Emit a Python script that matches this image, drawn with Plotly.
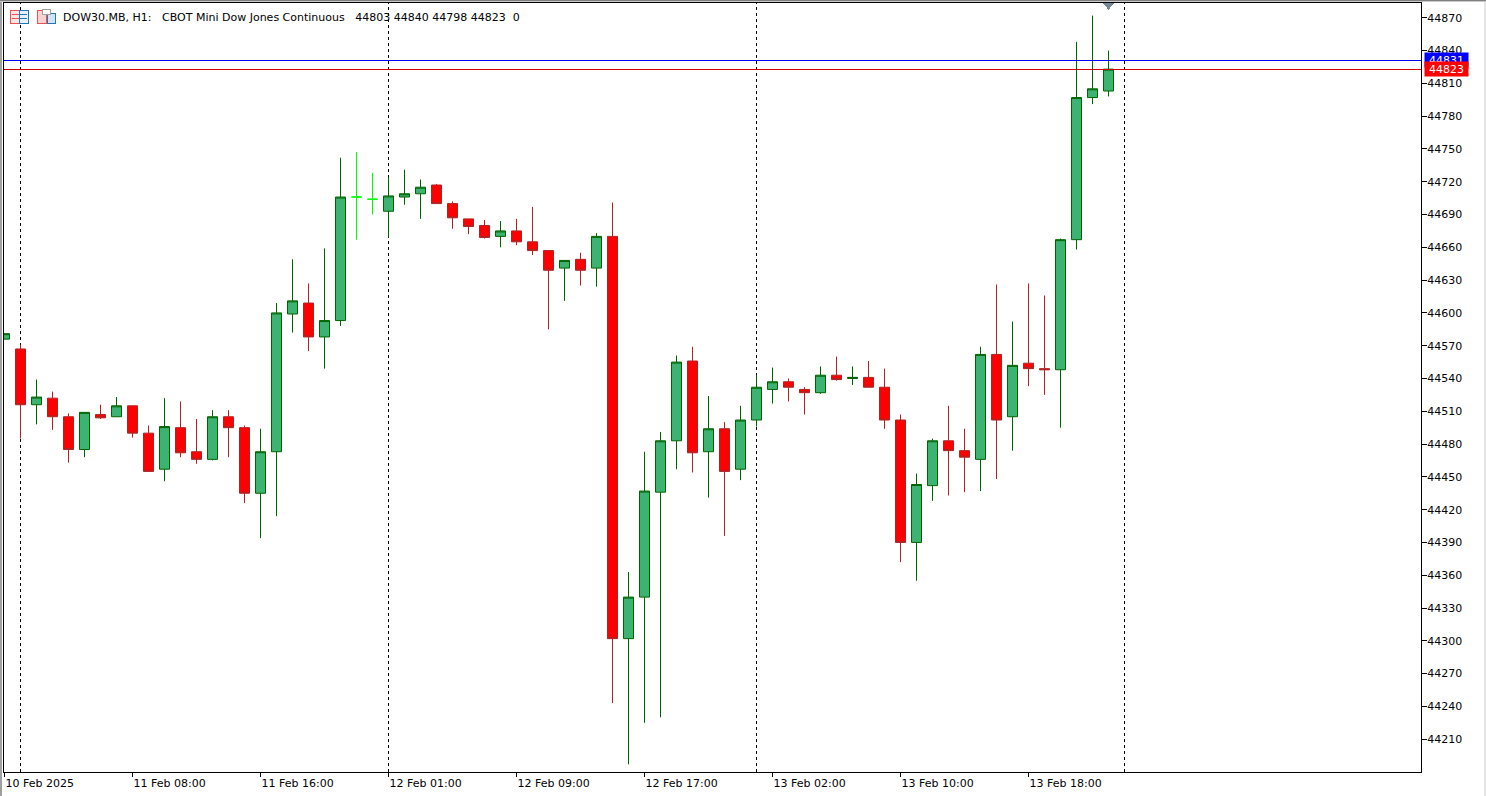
import plotly.graph_objects as go

opens = [44576,44567,44516,44522,44505,44475,44507,44505,44515,44490,44457,44495,44473,44466,44505,44495,44435,44473,44599,44609,
         44578,44593,44706,44704,44693,44706,44709,44717,44700,44686,44680,44670,44675,44665,44657,44641,44649,44641,44670,44302,
         44340,44436,44483,44556,44473,44494,44457,44502,44530,44537,44530,44527,44543,44540,44541,44532,44502,44390,44442,44483,
         44474,44466,44562,44505,44554,44549,44548,44667,44797,44803]
highs = [44581,44571,44539,44528,44508,44509,44516,44523,44515,44497,44522,44519,44503,44511,44511,44497,44494,44609,44649,44627,
         44659,44742,44747,44728,44724,44731,44722,44718,44702,44686,44685,44684,44686,44697,44657,44648,44655,44673,44701,44363,
         44473,44491,44561,44569,44524,44500,44515,44543,44550,44540,44532,44551,44560,44551,44556,44549,44507,44453,44485,44515,
         44494,44569,44626,44592,44627,44616,44668,44848,44872,44840]
lows = [44576,44485,44498,44493,44463,44468,44503,44505,44486,44455,44446,44468,44462,44465,44468,44426,44394,44414,44582,44565,
        44549,44588,44667,44690,44669,44699,44686,44700,44677,44672,44668,44660,44662,44653,44585,44611,44625,44624,44243,44187,
        44225,44230,44457,44454,44431,44396,44447,44496,44517,44519,44507,44526,44538,44534,44532,44494,44372,44355,44428,44433,
        44436,44437,44448,44474,44533,44525,44495,44658,44791,44798]
closes = [44581,44516,44523,44505,44475,44509,44504,44515,44490,44455,44496,44472,44466,44505,44495,44435,44473,44600,44611,44578,
          44593,44706,44706,44704,44707,44709,44715,44700,44687,44679,44669,44675,44665,44657,44639,44648,44639,44670,44302,44340,
          44437,44483,44555,44472,44494,44455,44502,44532,44537,44532,44527,44543,44539,44541,44532,44502,44390,44443,44483,44474,
          44468,44562,44502,44552,44549,44548,44667,44797,44805,44823]
x_tick_bars = [0, 8, 16, 24, 32, 40, 48, 56, 64]
x_tick_labels = ["10 Feb 2025", "11 Feb 08:00", "11 Feb 16:00", "12 Feb 01:00", "12 Feb 09:00",
                 "12 Feb 17:00", "13 Feb 02:00", "13 Feb 10:00", "13 Feb 18:00"]
y_ticks = [44210,44240,44270,44300,44330,44360,44390,44420,44450,44480,44510,44540,44570,44600,44630,
           44660,44690,44720,44750,44780,44810,44840,44870]
day_separators = [1, 24, 47, 70]
bid_price = 44823
ask_price = 44831
title_text = ("DOW30.MB, H1:\u00a0\u00a0\u00a0CBOT Mini Dow Jones Continuous\u00a0\u00a0\u00a0"
              "44803 44840 44798 44823\u00a0\u00a00")

W, H = 1486, 796
L, R, T, B = 4, 1421, 3, 772
FONT = "DejaVu Sans"
PX_PER_BAR = 16
Y_TOP, Y_BOTTOM = 44883.5, 44180.0
X_START = -0.5 / PX_PER_BAR

bars = list(range(len(opens)))
regular = [i for i in bars if opens[i] != closes[i]]
doji = [i for i in bars if opens[i] == closes[i]]

def pick(a, idx): return [a[i] for i in idx]

fig = go.Figure()
fig.add_trace(go.Candlestick(
    x=regular, open=pick(opens, regular), high=pick(highs, regular), low=pick(lows, regular), close=pick(closes, regular),
    increasing=dict(fillcolor="#3CB371", line=dict(color="#006400", width=1)),
    decreasing=dict(fillcolor="#FF0000", line=dict(color="#B22222", width=1)),
    hoverinfo="skip", showlegend=False))
fig.add_trace(go.Candlestick(
    x=doji, open=pick(opens, doji), high=pick(highs, doji), low=pick(lows, doji), close=pick(closes, doji),
    increasing=dict(fillcolor="#00FF00", line=dict(color="#00FF00", width=1)),
    decreasing=dict(fillcolor="#00FF00", line=dict(color="#00FF00", width=1)),
    hoverinfo="skip", showlegend=False))

shapes = []
for s in day_separators:
    shapes.append(dict(type="line", xref="x", yref="paper", x0=s, x1=s, y0=0, y1=1, layer="below",
                       line=dict(color="#000000", width=1, dash="3px,3px")))
shapes.append(dict(type="line", xref="paper", yref="y", x0=0, x1=1, y0=ask_price, y1=ask_price, layer="above",
                   line=dict(color="#0000FF", width=1)))
shapes.append(dict(type="line", xref="paper", yref="y", x0=0, x1=1, y0=bid_price, y1=bid_price, layer="above",
                   line=dict(color="#D00000", width=1)))

def rect(x0, y0, x1, y1, fill, line=None):
    return dict(type="rect", xref="paper", yref="paper", x0=(x0 - L) / (R - L), x1=(x1 - L) / (R - L),
                y0=(B - y1) / (B - T), y1=(B - y0) / (B - T), fillcolor=fill, layer="above",
                line=dict(color=line or fill, width=1 if line else 0))
shapes.append(rect(0, 0, 2, 796, "#A0A0A0"))
shapes.append(rect(0, 0, 1486, 1, "#808080"))
shapes.append(rect(0, 1, 1486, 2, "#C8C8C8"))
shapes.append(rect(1484, 2, 1486, 796, "#E4E4E4"))

ax0, ax1, ay0, ay1 = (1103 - L) / (R - L), (1114 - L) / (R - L), (B - 3) / (B - T), (B - 10) / (B - T)
shapes.append(dict(type="path", xref="paper", yref="paper", fillcolor="#778899", line=dict(width=0), layer="above",
                   path=f"M{ax0},{ay0} L{ax1},{ay0} L{(ax0 + ax1) / 2},{ay1} Z"))

shapes.append(rect(10.5, 10.5, 19.5, 23.5, "#FDE4E4", "#EE5050"))
shapes.append(rect(19.5, 10.5, 28.5, 23.5, "#E4F0FA", "#1F78B8"))
for yy in (14.5, 18.5):
    shapes.append(rect(12, yy, 19, yy, "#EE5050", "#EE5050"))
    shapes.append(rect(20, yy, 27, yy, "#1F78B8", "#1F78B8"))
shapes.append(rect(37.5, 10.5, 46.5, 23.5, "#FBD0D0", "#EE5050"))
shapes.append(rect(47.5, 13.5, 55.5, 23.5, "#CFE4F5", "#1F78B8"))
shapes.append(rect(42.5, 9.5, 50.5, 14.5, "#FFFFFF", "#A0A0A0"))

annotations = [
    dict(xref="paper", yref="paper", x=(61 - L) / (R - L), y=(B - 17) / (B - T), text=title_text, showarrow=False,
         xanchor="left", yanchor="middle", font=dict(family=FONT, size=11, color="#000000")),
    dict(xref="paper", yref="y", x=(1424 - L) / (R - L), y=ask_price, text=str(ask_price), showarrow=False, xanchor="left",
         yanchor="middle", bgcolor="#0000FF", borderpad=0, width=43, height=14, align="center",
         font=dict(family=FONT, size=11, color="#FFFFFF")),
    dict(xref="paper", yref="y", x=(1424 - L) / (R - L), y=bid_price, text=str(bid_price), showarrow=False, xanchor="left",
         yanchor="middle", bgcolor="#FF0000", borderpad=0, width=43, height=14, align="center",
         font=dict(family=FONT, size=11, color="#FFFFFF")),
]

fig.update_layout(
    width=W, height=H, autosize=False, paper_bgcolor="#FFFFFF", plot_bgcolor="#FFFFFF",
    margin=dict(l=L, r=W - R, t=T, b=H - B, pad=0), boxmode="overlay", boxgap=0.375, boxgroupgap=0, showlegend=False,
    shapes=shapes, annotations=annotations, hovermode=False,
    font=dict(family=FONT, size=11, color="#000000"),
    xaxis=dict(range=[X_START, X_START + (R - L) / PX_PER_BAR], rangeslider=dict(visible=False), tickmode="array",
               tickvals=x_tick_bars, ticktext=x_tick_labels, ticks="outside", ticklen=4, tickwidth=1, tickcolor="#000000",
               ticklabelposition="outside right", ticklabelstandoff=1, showgrid=False, zeroline=False, showline=True, mirror=True,
               linecolor="#000000", linewidth=1, tickangle=0, tickfont=dict(family=FONT, size=11, color="#000000")),
    yaxis=dict(side="right", range=[Y_BOTTOM, Y_TOP], tickmode="array", tickvals=y_ticks, ticktext=[str(v) for v in y_ticks],
               ticks="outside", ticklen=5, tickwidth=1, tickcolor="#000000", ticklabelstandoff=-2, showgrid=False, zeroline=False,
               showline=True, mirror=True, linecolor="#000000", linewidth=1,
               tickfont=dict(family=FONT, size=11, color="#000000")),
)

fig.write_html("out.html", config=dict(displayModeBar=False),
               post_script="document.body.style.margin='0';document.documentElement.style.overflow='hidden';"
                           "var s=document.createElement('style');s.textContent='.shapelayer path{shape-rendering:crispEdges}';"
                           "document.head.appendChild(s);")
